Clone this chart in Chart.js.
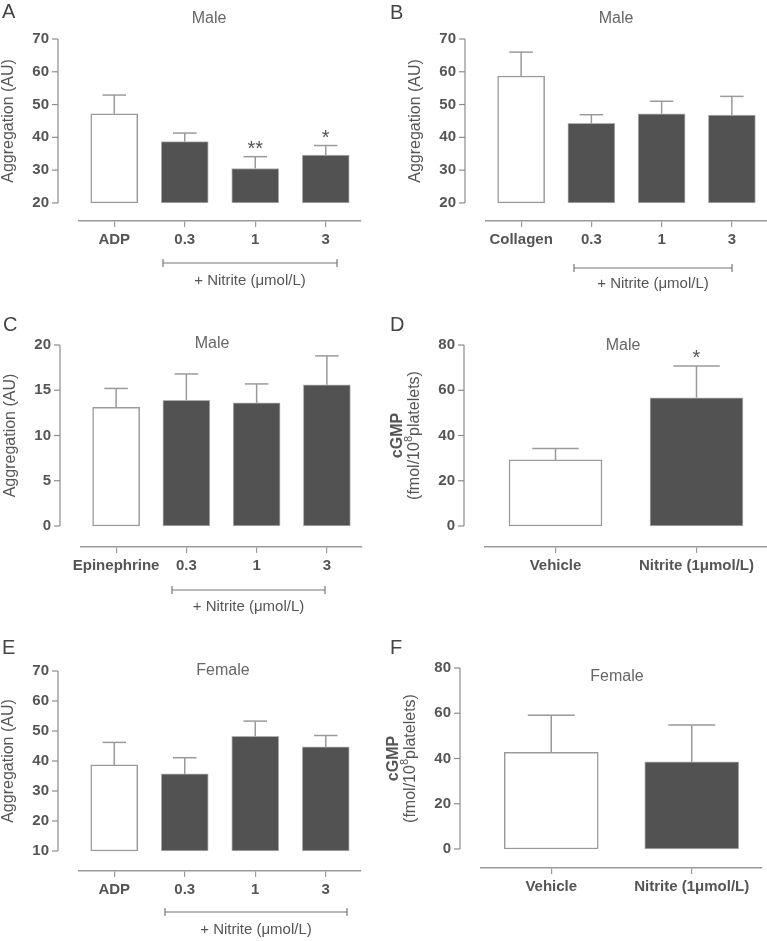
<!DOCTYPE html>
<html><head><meta charset="utf-8">
<script src="https://cdn.jsdelivr.net/npm/chart.js@4.4.1/dist/chart.umd.min.js"></script>
<style>
html,body{margin:0;padding:0;background:#fff;width:767px;height:941px;overflow:hidden}
.p{position:absolute}
.p canvas{display:block}
.lt{position:absolute;font:20px "Liberation Sans",Arial,sans-serif;color:#444;line-height:20px}
</style></head><body>
<div class="p" style="left:0;top:0"><canvas id="cA" width="383" height="300"></canvas></div>
<div class="p" style="left:383px;top:0"><canvas id="cB" width="384" height="300"></canvas></div>
<div class="p" style="left:0;top:300px"><canvas id="cC" width="383" height="315"></canvas></div>
<div class="p" style="left:383px;top:300px"><canvas id="cD" width="384" height="315"></canvas></div>
<div class="p" style="left:0;top:615px"><canvas id="cE" width="383" height="326"></canvas></div>
<div class="p" style="left:383px;top:615px"><canvas id="cF" width="384" height="326"></canvas></div>
<div class="lt" style="left:2px;top:1px">A</div>
<div class="lt" style="left:390px;top:2px">B</div>
<div class="lt" style="left:3px;top:314px">C</div>
<div class="lt" style="left:390px;top:314px">D</div>
<div class="lt" style="left:2px;top:637px">E</div>
<div class="lt" style="left:390px;top:637px">F</div>
<script>
// ---------- data ----------
const catsA = ['ADP', '0.3', '1', '3'];
const meanA = [47.2, 38.7, 30.5, 34.6];
const semA  = [5.7, 2.6, 3.6, 2.9];
const starA = ['', '', '**', '*'];
const ticksA = [20, 30, 40, 50, 60, 70];

const catsB = ['Collagen', '0.3', '1', '3'];
const meanB = [58.7, 44.3, 47.2, 46.8];
const semB  = [7.3, 2.6, 3.8, 5.7];
const starB = ['', '', '', ''];
const ticksB = [20, 30, 40, 50, 60, 70];

const catsC = ['Epinephrine', '0.3', '1', '3'];
const meanC = [13.1, 13.9, 13.6, 15.6];
const semC  = [2.1, 2.9, 2.1, 3.2];
const starC = ['', '', '', ''];
const ticksC = [0, 5, 10, 15, 20];

const catsD = ['Vehicle', 'Nitrite (1\u03bcmol/L)'];
const meanD = [29.2, 56.7];
const semD  = [5.0, 14.0];
const starD = ['', '*'];
const ticksD = [0, 20, 40, 60, 80];

const catsE = ['ADP', '0.3', '1', '3'];
const meanE = [38.7, 35.7, 48.2, 44.7];
const semE  = [7.5, 5.4, 5.1, 3.8];
const starE = ['', '', '', ''];
const ticksE = [10, 20, 30, 40, 50, 60, 70];

const catsF = ['Vehicle', 'Nitrite (1\u03bcmol/L)'];
const meanF = [42.7, 38.5];
const semF  = [16.4, 16.3];
const starF = ['', ''];
const ticksF = [0, 20, 40, 60, 80];

const ytitleAgg = ['Aggregation (AU)'];
const ytitleCgmp = ['cGMP', ['(fmol/10', '8', 'platelets)']];
const bracketText = '+ Nitrite (\u03bcmol/L)';

// ---------- layout / style ----------
const FAM = '"Liberation Sans", Arial, Helvetica, sans-serif';
const DARK = '#525252';

function makePanel(id, P, L) {
  const lowV = P.ticks[0], highV = P.ticks[P.ticks.length - 1];
  const perPx = (highV - lowV) / (L.low - L.top);
  const yMin = lowV - (L.bottom - L.low) * perPx;
  const plugin = {
    id: 'extras' + id,
    afterDatasetsDraw(chart) {
      const ctx = chart.ctx, ys = chart.scales.y, ca = chart.chartArea;
      const meta = chart.getDatasetMeta(0);
      ctx.save();
      // error bars + stars
      meta.data.forEach((bar, i) => {
        const x = bar.x, w = bar.width;
        const yt = ys.getPixelForValue(P.means[i]);
        const ye = ys.getPixelForValue(P.means[i] + P.sems[i]);
        ctx.strokeStyle = '#9a9a9a'; ctx.lineWidth = 1.5;
        ctx.beginPath(); ctx.moveTo(x, yt); ctx.lineTo(x, ye); ctx.stroke();
        ctx.beginPath(); ctx.moveTo(x - w / 4, ye); ctx.lineTo(x + w / 4, ye); ctx.stroke();
        if (P.stars[i]) {
          ctx.fillStyle = '#555'; ctx.font = '20px ' + FAM;
          ctx.textAlign = 'center'; ctx.textBaseline = 'alphabetic';
          ctx.fillText(P.stars[i], x, ye - 2);
        }
      });
      // detached y axis
      const ax = ca.left - 21;
      const yTopPx = ys.getPixelForValue(highV), yLowPx = ys.getPixelForValue(lowV);
      ctx.strokeStyle = '#8c8c8c'; ctx.lineWidth = 1.2;
      ctx.beginPath(); ctx.moveTo(ax, yTopPx); ctx.lineTo(ax, yLowPx); ctx.stroke();
      P.ticks.forEach(v => {
        const y = ys.getPixelForValue(v);
        ctx.beginPath(); ctx.moveTo(ax - 6, y); ctx.lineTo(ax, y); ctx.stroke();
      });
      // y title
      const ym = (yTopPx + yLowPx) / 2;
      ctx.fillStyle = '#555';
      ctx.textAlign = 'center'; ctx.textBaseline = 'middle';
      if (P.ytitle.length === 1) {
        ctx.save(); ctx.translate(ax - 49, ym); ctx.rotate(-Math.PI / 2);
        ctx.font = '16px ' + FAM; ctx.fillText(P.ytitle[0], 0, 0); ctx.restore();
      } else {
        ctx.save(); ctx.translate(ax - 66, ym); ctx.rotate(-Math.PI / 2);
        ctx.font = 'bold 16px ' + FAM; ctx.fillText(P.ytitle[0], 0, 0); ctx.restore();
        const parts = P.ytitle[1];
        ctx.save(); ctx.translate(ax - 49, ym); ctx.rotate(-Math.PI / 2);
        ctx.textAlign = 'left';
        ctx.font = '16px ' + FAM;
        const w1 = ctx.measureText(parts[0]).width, w3 = ctx.measureText(parts[2]).width;
        ctx.font = '11px ' + FAM;
        const w2 = ctx.measureText(parts[1]).width;
        let sx = -(w1 + w2 + w3) / 2;
        ctx.font = '16px ' + FAM; ctx.fillText(parts[0], sx, 0); sx += w1;
        ctx.font = '11px ' + FAM; ctx.fillText(parts[1], sx, -6); sx += w2;
        ctx.font = '16px ' + FAM; ctx.fillText(parts[2], sx, 0);
        ctx.restore();
      }
      // panel title
      ctx.fillStyle = '#666'; ctx.font = '16px ' + FAM;
      ctx.textAlign = 'center'; ctx.textBaseline = 'middle';
      ctx.fillText(P.title, L.tx - L.cx, L.ty - L.cy);
      // bracket
      if (L.br) {
        const [bx1, bx2, by, ly] = L.br.map((v, k) => v - (k < 2 ? L.cx : L.cy));
        ctx.strokeStyle = '#777'; ctx.lineWidth = 1.2;
        ctx.beginPath(); ctx.moveTo(bx1, by); ctx.lineTo(bx2, by);
        ctx.moveTo(bx1, by - 4); ctx.lineTo(bx1, by + 4);
        ctx.moveTo(bx2, by - 4); ctx.lineTo(bx2, by + 4); ctx.stroke();
        ctx.fillStyle = '#555'; ctx.font = '15px ' + FAM;
        ctx.fillText(bracketText, (bx1 + bx2) / 2, ly);
      }
      ctx.restore();
    }
  };
  new Chart(document.getElementById(id), {
    type: 'bar',
    data: {
      labels: P.cats,
      datasets: [{
        data: P.means,
        base: lowV,
        backgroundColor: P.cats.map((c, i) => i === 0 ? '#ffffff' : DARK),
        borderColor: P.cats.map((c, i) => i === 0 ? '#9a9a9a' : '#b0b0b0'),
        borderWidth: P.cats.map((c, i) => i === 0 ? 1.5 : 1),
        borderSkipped: false,
        barThickness: L.barW
      }]
    },
    options: {
      responsive: false, animation: false, devicePixelRatio: 1,
      events: [],
      layout: { padding: { top: L.top - L.cy, right: L.cx + L.cw - L.right, left: 0, bottom: 0 } },
      plugins: { legend: { display: false }, tooltip: { enabled: false }, title: { display: false } },
      scales: {
        x: {
          type: 'category', offset: true,
          grid: { display: true, drawOnChartArea: false, drawTicks: true, tickLength: 6, offset: false, color: '#9a9a9a', lineWidth: 1.2 },
          border: { display: true, color: '#9a9a9a', width: 1.5 },
          ticks: { font: { family: FAM, size: 15, weight: 'bold' }, color: '#555', padding: 4, maxRotation: 0, autoSkip: false },
          afterFit: s => { s.height = L.cy + L.ch - L.bottom; }
        },
        y: {
          type: 'linear', min: yMin, max: highV,
          afterBuildTicks: s => { s.ticks = P.ticks.map(v => ({ value: v })); },
          grid: { display: false, drawTicks: false, tickLength: 0 },
          border: { display: false },
          ticks: { font: { family: FAM, size: 15, weight: 'bold' }, color: '#555', padding: 30 },
          afterFit: s => { s.width = L.left - L.cx; }
        }
      }
    },
    plugins: [plugin]
  });
}

makePanel('cA', { cats: catsA, means: meanA, sems: semA, stars: starA, ticks: ticksA, ytitle: ytitleAgg, title: 'Male' },
  { cx: 0, cy: 0, cw: 383, ch: 300, left: 79, right: 361, top: 20, low: 201, bottom: 221, barW: 47, tx: 209, ty: 19, br: [163, 337, 263, 281] });
makePanel('cB', { cats: catsB, means: meanB, sems: semB, stars: starB, ticks: ticksB, ytitle: ytitleAgg, title: 'Male' },
  { cx: 383, cy: 0, cw: 384, ch: 300, left: 486, right: 767, top: 20, low: 201, bottom: 221, barW: 47, tx: 616, ty: 19, br: [574, 732, 268, 284] });
makePanel('cC', { cats: catsC, means: meanC, sems: semC, stars: starC, ticks: ticksC, ytitle: ytitleAgg, title: 'Male' },
  { cx: 0, cy: 300, cw: 383, ch: 315, left: 81, right: 362, top: 345, low: 526, bottom: 547, barW: 47, tx: 212, ty: 344, br: [172, 325, 590, 607] });
makePanel('cD', { cats: catsD, means: meanD, sems: semD, stars: starD, ticks: ticksD, ytitle: ytitleCgmp, title: 'Male' },
  { cx: 383, cy: 300, cw: 384, ch: 315, left: 485, right: 767, top: 345, low: 526, bottom: 547, barW: 93, tx: 623, ty: 346, br: null });
makePanel('cE', { cats: catsE, means: meanE, sems: semE, stars: starE, ticks: ticksE, ytitle: ytitleAgg, title: 'Female' },
  { cx: 0, cy: 615, cw: 383, ch: 326, left: 79, right: 361, top: 671, low: 851, bottom: 871, barW: 47, tx: 223, ty: 671, br: [165, 347, 912, 930] });
makePanel('cF', { cats: catsF, means: meanF, sems: semF, stars: starF, ticks: ticksF, ytitle: ytitleCgmp, title: 'Female' },
  { cx: 383, cy: 615, cw: 384, ch: 326, left: 481, right: 762, top: 668, low: 849, bottom: 868, barW: 94, tx: 617, ty: 677, br: null });
</script>
</body></html>
